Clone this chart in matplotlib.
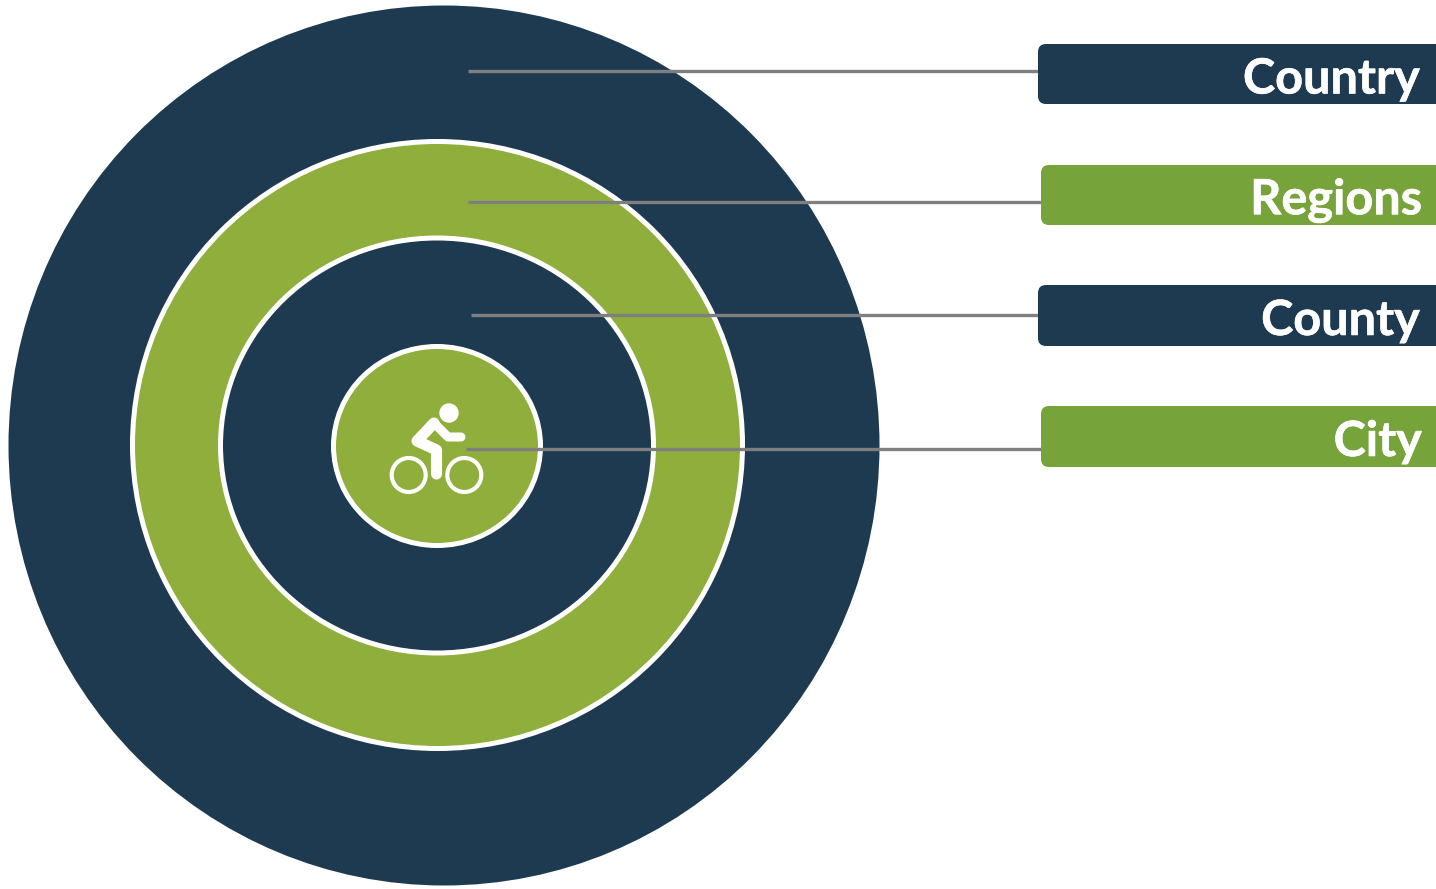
import matplotlib.pyplot as plt
import matplotlib.patheffects as pe
from matplotlib.patches import Ellipse, Circle, FancyBboxPatch

NAVY = '#1e3a51'
GREEN = '#8fae3b'
BOX_GREEN = '#77a43a'
GRAY = '#7f7f7f'

# levels, top to bottom (pixel coords)
labels = ['Country', 'Regions', 'County', 'City']
box_left = [1038, 1041, 1038, 1041]
box_top = [44, 165, 285, 406]
box_bottom = [104, 225, 346, 467]
box_colors = [NAVY, BOX_GREEN, NAVY, BOX_GREEN]
text_right = [1420, 1422, 1420, 1422]
line_start = [468, 468, 471, 466]
line_y = [71.5, 202.5, 315, 449.5]

# the rings, outermost first
ring_cx = [444, 437.5, 437, 437]
ring_cy = [445.5, 445, 445.5, 446]
ring_w = [871, 610, 433, 207]
ring_h = [880, 607, 415, 199]
ring_colors = [NAVY, GREEN, NAVY, GREEN]
ring_edges = [NAVY, 'white', 'white', 'white']

# cyclist icon
head = (449, 413, 9)
wheel_x = [408.7, 464.3]
wheel_y = 475
wheel_r = 17
arm_x = [461, 448, 434]
arm_y = [437, 437, 423]
body_x = [434, 417, 436.5, 436.5]
body_y = [423, 441, 450, 474]

fig = plt.figure(figsize=(14.36, 8.89), dpi=100)
ax = fig.add_axes([0, 0, 1, 1])
ax.set_xlim(0, 1436)
ax.set_ylim(889, 0)
ax.axis('off')

for i in range(len(ring_w)):
    lw = 0 if i == 0 else 3.6
    ax.add_patch(Ellipse((ring_cx[i], ring_cy[i]), ring_w[i], ring_h[i],
                         facecolor=ring_colors[i], edgecolor=ring_edges[i], linewidth=lw, zorder=i + 1))

# icon
ax.add_patch(Circle(head[:2], head[2], color='white', zorder=6))
for x in wheel_x:
    ax.add_patch(Circle((x, wheel_y), wheel_r, facecolor='none', edgecolor='white', linewidth=3, zorder=6))
ax.plot(arm_x, arm_y, color='white', lw=6.5, solid_capstyle='round', solid_joinstyle='round', zorder=6)
ax.plot(body_x, body_y, color='white', lw=8, solid_capstyle='round', solid_joinstyle='round', zorder=6)

for i in range(len(labels)):
    ax.plot([line_start[i], box_left[i]], [line_y[i] - 0.5, line_y[i] - 0.5], color=GRAY, lw=2.4,
            solid_capstyle='butt', zorder=7)
    ax.add_patch(FancyBboxPatch((box_left[i] + 8, box_top[i] + 8), 420, box_bottom[i] - box_top[i] - 16,
                                boxstyle='round,pad=8', facecolor=box_colors[i], edgecolor='none', zorder=8))
    t = ax.text(text_right[i], (box_top[i] + box_bottom[i]) / 2 + 5, labels[i], color='white', fontsize=35,
                family='Lato', fontweight='bold', ha='right', va='center', zorder=9)
    t.set_path_effects([pe.withStroke(linewidth=0.4, foreground='white')])

fig.savefig('out.png', dpi=100, facecolor='white')
